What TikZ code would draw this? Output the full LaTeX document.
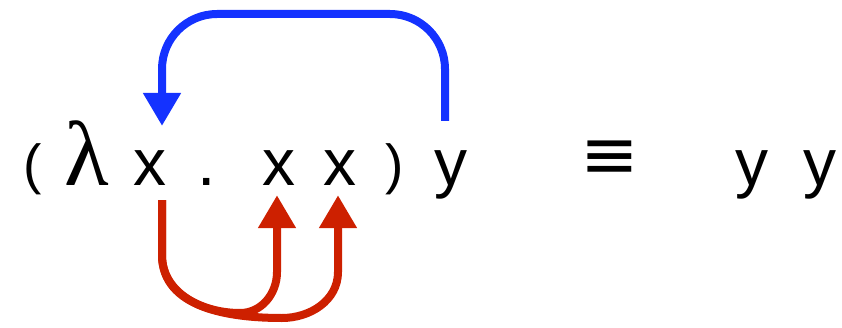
\documentclass[tikz,border=0pt]{standalone}
\usepackage{fontspec}
\setmainfont{Liberation Sans}
\newfontfamily\lamfont{Liberation Serif}
\newfontfamily\symfont{DejaVu Sans}
\usepackage{tikz}
\usetikzlibrary{arrows.meta, positioning}

\definecolor{bindblue}{RGB}{20,50,255}
\definecolor{usered}{RGB}{205,32,0}

\begin{document}
\begin{tikzpicture}[
        x=1pt, y=1pt,
        term/.style={inner sep=0pt, anchor=base, font=\fontsize{66}{66}\selectfont},
        paren/.style={inner sep=0pt, anchor=base, font=\fontsize{55}{55}\selectfont},
        subst/.style={draw=bindblue, line width=8pt, rounded corners=55pt, -{Triangle[length=33pt,width=36pt]}},
        occur/.style={draw=usered, line width=8pt, -{Triangle[length=33pt,width=36pt]}}
        ]
        \useasboundingbox (0,0) rectangle (842,327);

        % Term
        \node [paren] (lp) at (33,144) {(};
        \node [term, font=\lamfont\fontsize{92}{92}\selectfont] (lam) at (87,142) {λ};
        \node [term] (xbind) at (150,142) {x};
        \node [term] (dot) at (207,142) {.};
        \node [term] (xa) at (279,142) {x};
        \node [term] (xb) at (340,142) {x};
        \node [paren] (rp) at (395,144) {)};
        \node [term] (arg) at (451,142) {y};
        \node [inner sep=0pt, font=\symfont\fontsize{70}{70}\selectfont] (equiv) at (610,167) {≡};
        \node [term] (ya) at (752,142) {y};
        \node [term] (yb) at (820,142) {y};

        % Arrows
        \path [subst] ([xshift=-6pt,yshift=29pt]arg.north) |- (300,313) -| ([xshift=12pt,yshift=24pt]xbind.north);
        \path [occur] ([xshift=12pt,yshift=-15pt]xbind.south) -- (162,72)
            to[out=-90,in=180] (240,14) to[out=0,in=-90] (277,55) -- ([xshift=-2pt,yshift=-10pt]xa.south);
        \path [occur] ([xshift=12pt,yshift=-15pt]xbind.south) -- (162,72)
            to[out=-90,in=180] (282,9) to[out=0,in=-90] (338,55) -- ([xshift=-2pt,yshift=-10pt]xb.south);
    \end{tikzpicture}
\end{document}
